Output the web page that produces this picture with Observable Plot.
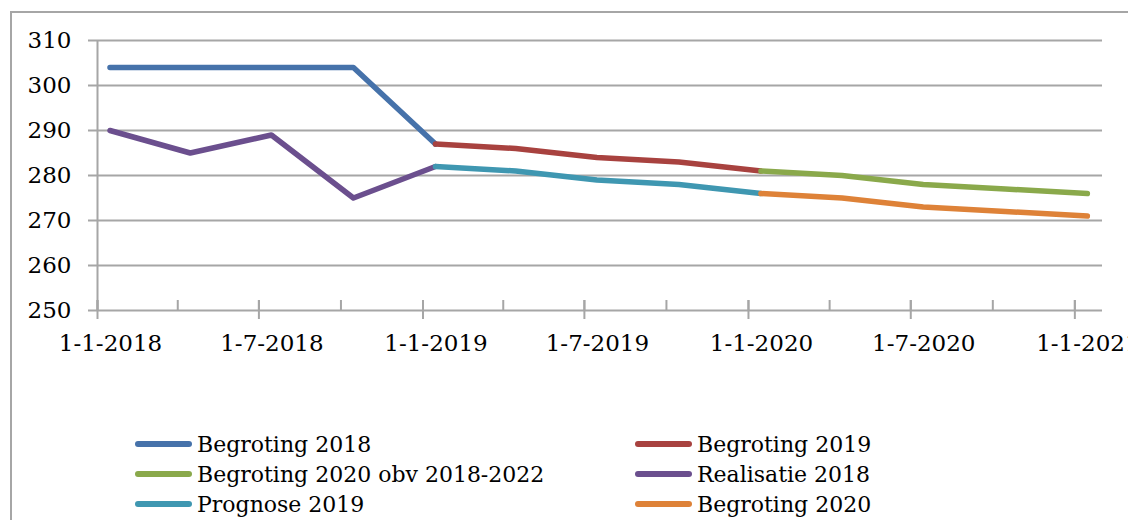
<!DOCTYPE html>
<html><head><meta charset="utf-8">
<script src="https://cdn.jsdelivr.net/npm/d3@7"></script>
<script src="https://cdn.jsdelivr.net/npm/@observablehq/plot@0.6"></script>
<style>
html,body{margin:0;padding:0;background:#fff;}
#wrap{position:relative;width:1128px;height:520px;overflow:hidden;font-family:"DejaVu Serif",serif;background:#fff;}
#frame{position:absolute;left:10px;top:11px;width:1200px;height:600px;border:2px solid #a6a6a6;box-sizing:border-box;}
#chart{position:absolute;left:0;top:0;}
#legend{position:absolute;left:0;top:0;}
.item{position:absolute;display:flex;align-items:center;height:30px;font-size:22px;color:#000;white-space:nowrap;}
.sw{width:57px;height:6px;border-radius:3px;margin-right:5px;flex:none;}
</style></head><body>
<div id="wrap"><div id="frame"></div><div id="chart"></div><div id="legend"></div></div>
<script>
// ---- data ----
const quarterDates = ["2018-01-15","2018-04-15","2018-07-15","2018-10-15","2019-01-15","2019-04-15","2019-07-15","2019-10-15","2020-01-15","2020-04-15","2020-07-15","2020-10-15","2021-01-15"];
const seriesNames = ["Begroting 2018","Begroting 2019","Begroting 2020 obv 2018-2022","Realisatie 2018","Prognose 2019","Begroting 2020"];
const seriesColors = ["#4672AA","#A8423F","#8AA94B","#6B4F8E","#3F97B1","#DE8238"];
const begroting2018 = [304,304,304,304,287];
const begroting2019 = [287,286,284,283,281];
const begroting2020obv = [281,280,278,277,276];
const realisatie2018 = [290,285,289,275,282];
const prognose2019 = [282,281,279,278,276];
const begroting2020 = [276,275,273,272,271];
const seriesValues = [begroting2018,begroting2019,begroting2020obv,realisatie2018,prognose2019,begroting2020];
const seriesStart = [0,4,8,0,4,8]; // first quarter index of each series
const yTicks = [250,260,270,280,290,300,310];
const xTickDates = ["2018-01-01","2018-04-01","2018-07-01","2018-10-01","2019-01-01","2019-04-01","2019-07-01","2019-10-01","2020-01-01","2020-04-01","2020-07-01","2020-10-01","2021-01-01"];
const xLabelDates = ["2018-01-01","2018-07-01","2019-01-01","2019-07-01","2020-01-01","2020-07-01","2021-01-01"];
const xDomain = ["2018-01-01","2021-02-01"];

// ---- build ----
const rows = [];
seriesNames.forEach((name,i) => {
  seriesValues[i].forEach((v,j) => rows.push({series:name, date:new Date(quarterDates[seriesStart[i]+j]), value:v}));
});
const fmt = d => `${d.getUTCDate()}-${d.getUTCMonth()+1}-${d.getUTCFullYear()}`;
const grid = "#a6a6a6";

const chart = Plot.plot({
  width:1128, height:360,
  marginLeft:97, marginRight:26, marginTop:40, marginBottom:50,
  style:{fontFamily:"DejaVu Serif", background:"transparent", overflow:"visible"},
  x:{type:"utc", domain:xDomain.map(d=>new Date(d)), axis:null},
  y:{domain:[250,310], axis:null},
  color:{domain:seriesNames, range:seriesColors},
  marks:[
    Plot.ruleY(yTicks, {stroke:grid, strokeWidth:2, insetLeft:-9}),
    Plot.ruleX([new Date(xDomain[0])], {stroke:grid, strokeWidth:2}),
    Plot.ruleX(xTickDates.map(d=>new Date(d)), {stroke:grid, strokeWidth:2, insetTop:260}),
    Plot.ruleX(xLabelDates.map(d=>new Date(d)), {stroke:grid, strokeWidth:2, insetTop:260, insetBottom:-9}),
    Plot.text(yTicks, {y:d=>d, frameAnchor:"left", lineAnchor:"middle", textAnchor:"end", dx:-26, fontSize:23, fill:"#000", text:d=>String(d)}),
    Plot.text(xLabelDates.map(d=>new Date(d)), {x:d=>d, frameAnchor:"bottom", lineAnchor:"middle", dy:33, dx:13, fontSize:23, fill:"#000", text:fmt}),
    Plot.line(rows, {x:"date", y:"value", z:"series", stroke:"series", strokeWidth:5.5, strokeLinecap:"round", strokeLinejoin:"round"})
  ]
});
document.getElementById("chart").appendChild(chart);

// ---- legend ----
const legend = document.getElementById("legend");
const colX = [135, 635];
const rowY = [444, 474, 504];
seriesNames.forEach((name,i) => {
  const item = document.createElement("div");
  item.className = "item";
  item.style.left = colX[i%2] + "px";
  item.style.top = (rowY[Math.floor(i/2)] - 15) + "px";
  const sw = document.createElement("div");
  sw.className = "sw";
  sw.style.background = seriesColors[i];
  const t = document.createElement("span");
  t.textContent = name;
  item.appendChild(sw); item.appendChild(t);
  legend.appendChild(item);
});
</script>
</body></html>
